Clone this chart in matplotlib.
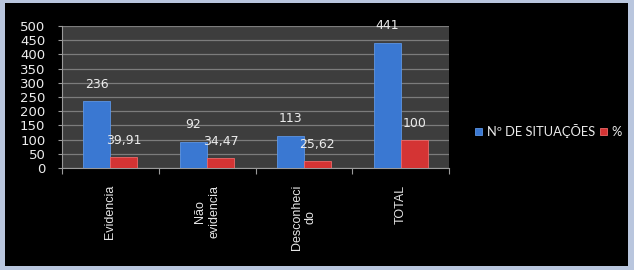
import numpy as np
import matplotlib
matplotlib.use("Agg")
import matplotlib.pyplot as plt
from matplotlib.patches import Rectangle

# --- data ---
categories = ["Evidencia", "Não\nevidencia", "Desconheci\ndo", "TOTAL"]
situacoes = [236, 92, 113, 441]
percent = [39.91, 34.47, 25.62, 100]
situacoes_labels = ["236", "92", "113", "441"]
percent_labels = ["39,91", "34,47", "25,62", "100"]

W, H = 634, 270
fig = plt.figure(figsize=(W / 100, H / 100), dpi=100)
fig.patch.set_facecolor("#b9c6de")
# black panel inside the light frame
fig.patches.append(Rectangle((5 / W, 4 / H), (628 - 5) / W, (267 - 4) / H,
                             transform=fig.transFigure, facecolor="black",
                             edgecolor="none", zorder=-5))

ax = fig.add_axes([62 / W, (H - 168) / H, (449 - 62) / W, (168 - 26) / H])
ax.set_zorder(2)
ax.set_facecolor("#3d3d3d")

x = np.arange(len(categories))
bw = 0.28
b1 = ax.bar(x - bw / 2, situacoes, bw, color="#3a78d2", edgecolor="#5d95e4",
            linewidth=0.6, label="Nº DE SITUAÇÕES", zorder=3)
b2 = ax.bar(x + bw / 2, percent, bw, color="#d43434", edgecolor="#ec6a6a",
            linewidth=0.6, label="%", zorder=3)

for rect, lab in zip(b1, situacoes_labels):
    ax.annotate(lab, (rect.get_x() + rect.get_width() / 2, rect.get_height()),
                xytext=(0, 7.5), textcoords="offset points", ha="center",
                va="bottom", color="#ececec", fontsize=9, family="DejaVu Sans")
for rect, lab in zip(b2, percent_labels):
    ax.annotate(lab, (rect.get_x() + rect.get_width() / 2, rect.get_height()),
                xytext=(0, 7.0), textcoords="offset points", ha="center",
                va="bottom", color="#ececec", fontsize=9, family="DejaVu Sans")

ax.set_xlim(-0.5, len(categories) - 0.5)
ax.set_ylim(0, 500)
ax.set_yticks(range(0, 501, 50))
ax.yaxis.grid(True, color="#7c7c7c", linewidth=0.9, zorder=1)
ax.set_axisbelow(True)

ax.set_xticks(np.arange(-0.5, len(categories), 1.0))
ax.set_xticklabels([])
ax.set_xticks(x, minor=True)
ax.set_xticklabels(categories, minor=True, rotation=90, ha="center", va="top",
                   multialignment="center", color="#e6e6e6", fontsize=9,
                   family="Liberation Sans")
ax.tick_params(axis="x", which="minor", length=0, pad=12)
ax.tick_params(axis="x", which="major", length=4, color="#9a9a9a", width=0.8)
ax.tick_params(axis="y", length=3, color="#9a9a9a", width=0.8, pad=9,
               labelcolor="#ececec", labelsize=9.5)
for lab in ax.get_yticklabels():
    lab.set_family("DejaVu Sans")

for side in ["top", "right"]:
    ax.spines[side].set_visible(False)
for side in ["left", "bottom"]:
    ax.spines[side].set_color("#9a9a9a")
    ax.spines[side].set_linewidth(0.8)

leg = fig.legend(loc="center left", bbox_to_anchor=(466 / W, 1 - 131 / H),
                 ncol=2, frameon=False, handlelength=0.55, handleheight=0.55,
                 handletextpad=0.35, columnspacing=0.4, borderpad=0.2,
                 prop={"family": "Lato", "size": 9.3})
for t in leg.get_texts():
    t.set_color("#ececec")

fig.savefig("out.png", dpi=100, facecolor=fig.get_facecolor())
